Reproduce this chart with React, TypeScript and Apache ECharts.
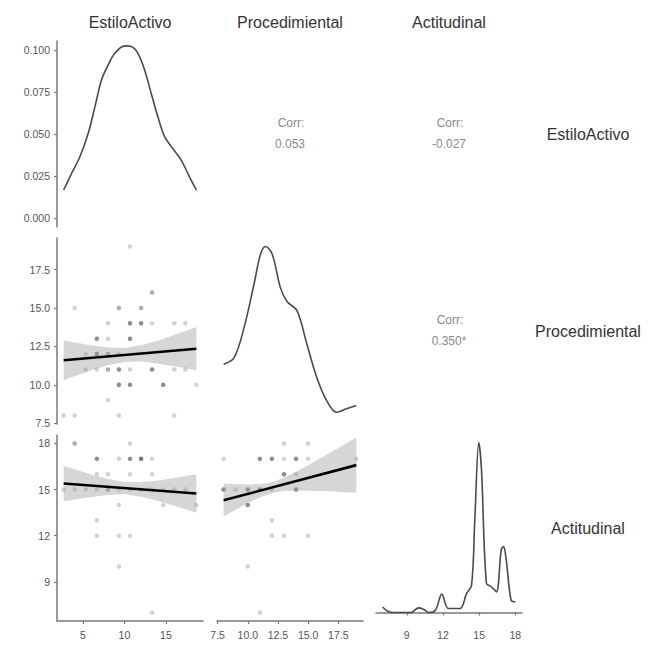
import React, { useEffect, useRef } from "react";
import * as echarts from "echarts";

// ---------- data ----------
const varNames = ["EstiloActivo", "Procedimiental", "Actitudinal"];
const corrTitle = "Corr:";
const corrValues = ["0.053", "-0.027", "0.350*"];

// tick labels
const eaTicks = [5, 10, 15];
const procTicks = [7.5, 10, 12.5, 15, 17.5];
const actTicks = [9, 12, 15, 18];
const densEATicks = [0, 0.025, 0.05, 0.075, 0.1];

// density curves
const densEA_x = [2.67, 3.47, 4.66, 5.65, 6.45, 7.24, 8.04, 8.84, 10.03, 10.82, 11.62, 12.42, 13.21, 14.01, 14.81, 15.6, 16.79, 17.79, 18.67];
const densEA_y = [0.0167, 0.025, 0.0369, 0.0507, 0.0664, 0.0822, 0.0911, 0.098, 0.1024, 0.102, 0.098, 0.0882, 0.0744, 0.0605, 0.0487, 0.0428, 0.0349, 0.025, 0.0167];

const densProc_x = [8.0, 8.87, 9.69, 10.51, 11.06, 11.47, 12.02, 12.71, 13.25, 14.08, 14.9, 15.72, 16.54, 17.36, 18.18, 19.0];
const densProc_y = [0.0608, 0.0686, 0.104, 0.155, 0.191, 0.2, 0.191, 0.151, 0.135, 0.124, 0.0843, 0.0451, 0.0176, 0.0039, 0.0079, 0.0118];

const densAct_x = [7.0, 7.41, 7.95, 9.32, 10.0, 10.41, 10.82, 11.37, 11.91, 12.45, 13.41, 13.96, 14.37, 14.64, 14.97, 15.19, 15.6, 16.01, 16.42, 16.83, 17.02, 17.24, 17.65, 18.0];
const densAct_y = [0.0133, 0.0031, 0, 0, 0.011, 0.0071, 0, 0.0055, 0.0436, 0.0095, 0.0095, 0.0452, 0.065, 0.22, 0.402, 0.339, 0.069, 0.061, 0.049, 0.148, 0.156, 0.125, 0.029, 0.025];

// scatter points (duplicates = overlapping observations)
const eaProcPts = [
  [10.67, 19], [13.33, 16], [13.33, 16], [4, 15], [9.33, 15], [9.33, 15], [12, 15], [12, 15],
  [8, 14], [10.67, 14], [10.67, 14], [10.67, 14], [12, 14], [12, 14], [12, 14], [13.33, 14], [16, 14], [17.33, 14],
  [6.67, 13], [6.67, 13], [6.67, 13], [8, 13], [10.67, 13], [10.67, 13], [10.67, 13],
  [5.33, 12], [6.67, 12], [6.67, 12], [6.67, 12], [8, 12], [8, 12], [9.33, 12],
  [5.33, 11], [6.67, 11], [8, 11], [8, 11], [9.33, 11], [9.33, 11], [9.33, 11], [10.67, 11],
  [13.33, 11], [13.33, 11], [13.33, 11], [16, 11], [17.33, 11],
  [9.33, 10], [9.33, 10], [9.33, 10], [10.67, 10], [10.67, 10], [10.67, 10],
  [14.67, 10], [14.67, 10], [14.67, 10], [18.67, 10],
  [8, 9], [2.67, 8], [4, 8], [9.33, 8], [16, 8],
];
const eaActPts = [
  [4, 18], [4, 18], [10.67, 18],
  [6.67, 17], [6.67, 17], [6.67, 17], [9.33, 17], [10.67, 17], [10.67, 17], [10.67, 17],
  [12, 17], [12, 17], [12, 17], [12, 17], [13.33, 17],
  [6.67, 16], [8, 16], [10.67, 16], [13.33, 16],
  [2.67, 15], [4, 15], [5.33, 15], [6.67, 15], [8, 15], [8, 15], [9.33, 15], [10.67, 15], [12, 15],
  [13.33, 15], [14.67, 15], [16, 15], [17.33, 15],
  [9.33, 14], [14.67, 14], [18.67, 14], [6.67, 13], [6.67, 12], [9.33, 12], [10.67, 12], [9.33, 10], [13.33, 7],
];
const procActPts = [
  [13, 18], [15, 18], [8, 17], [11, 17], [11, 17], [11, 17], [12, 17], [12, 17], [12, 17], [13, 17],
  [14, 17], [14, 17], [14, 17], [15, 17], [19, 17], [13, 16], [13, 16], [13, 16], [14, 16],
  [8, 15], [8, 15], [8, 15], [9, 15], [10, 15], [10, 15], [10, 15], [11, 15], [11, 15], [11, 15], [12, 15],
  [14, 15], [14, 15], [14, 15], [10, 14], [10, 14], [10, 14], [12, 13], [12, 12], [13, 12], [15, 12], [10, 10], [11, 7],
];

// regression lines and confidence bands
const reg1_x = [2.67, 4, 6, 8, 10, 12, 14, 16, 18.67];
const reg1_lo = [10.30, 10.56, 10.94, 11.27, 11.49, 11.51, 11.39, 11.20, 10.94];
const reg1_hi = [12.90, 12.76, 12.58, 12.43, 12.39, 12.57, 12.87, 13.24, 13.76];
const reg1_line = [[2.67, 11.6], [18.67, 12.35]];

const reg2_x = [2.67, 4, 6, 8, 10, 12, 14, 16, 18.67];
const reg2_lo = [14.24, 14.36, 14.52, 14.65, 14.69, 14.54, 14.27, 13.95, 13.49];
const reg2_hi = [16.54, 16.32, 15.98, 15.69, 15.49, 15.48, 15.59, 15.75, 15.99];
const reg2_line = [[2.67, 15.39], [18.67, 14.74]];

const reg3_x = [8, 9, 10, 11, 12, 13, 14, 15, 16, 17, 18, 19];
const reg3_lo = [13.24, 13.68, 14.11, 14.49, 14.78, 14.91, 14.94, 14.93, 14.90, 14.87, 14.83, 14.80];
const reg3_hi = [15.40, 15.34, 15.33, 15.35, 15.48, 15.77, 16.16, 16.59, 17.02, 17.47, 17.93, 18.38];
const reg3_line = [[8, 14.3], [19, 16.59]];

// ---------- layout / style ----------
const FONT = "Liberation Sans, Arial, sans-serif";
const colLeft = [57, 217, 376];
const colW = 146;
const rowTop = [41, 238, 435];
const rowH = 186;
const EA_RANGE = [1.867, 19.467];
const PROC_RANGE = [7.45, 19.55];
const ACT_RANGE = [6.45, 18.55];
const AXIS_COLOR = "#7a7a7a";
const LABEL_COLOR = "#555";

function shownAxis(gridIndex: number, range: number[], ticks: number[], fmt: (v: number) => string, pos: string) {
  return {
    type: "value",
    gridIndex,
    position: pos,
    min: range[0],
    max: range[1],
    axisLine: { show: true, lineStyle: { color: AXIS_COLOR, width: 1.5 } },
    axisTick: { show: true, length: 3, customValues: ticks, lineStyle: { color: AXIS_COLOR, width: 1.2 } },
    axisLabel: {
      customValues: ticks,
      formatter: (v: number) => fmt(v),
      color: LABEL_COLOR,
      fontSize: 10.5,
      fontFamily: FONT,
      margin: pos === "left" ? 7 : 8,
    },
    splitLine: { show: false },
  };
}
function hiddenAxis(gridIndex: number, range: number[]) {
  return { type: "value", gridIndex, min: range[0], max: range[1], show: false, splitLine: { show: false } };
}

const fmtInt = (v: number) => String(Math.round(v));
const fmt1 = (v: number) => v.toFixed(1);
const fmt3 = (v: number) => v.toFixed(3);

function densitySeries(xi: number, xs: number[], ys: number[]) {
  return {
    type: "line",
    xAxisIndex: xi,
    yAxisIndex: xi,
    data: xs.map((x, i) => [x, ys[i]]),
    symbol: "none",
    smooth: 0.35,
    lineStyle: { color: "#4a4a4a", width: 1.6 },
    silent: true,
  };
}
function scatterSeries(xi: number, pts: number[][]) {
  return {
    type: "scatter",
    xAxisIndex: xi,
    yAxisIndex: xi,
    data: pts,
    symbolSize: 4.5,
    itemStyle: { color: "rgba(0,0,0,0.22)" },
    silent: true,
    z: 2,
  };
}
function bandSeries(xi: number, xs: number[], lo: number[], hi: number[]) {
  return {
    type: "custom",
    xAxisIndex: xi,
    yAxisIndex: xi,
    data: xs.map((x, i) => [x, lo[i], hi[i]]),
    encode: { x: 0, y: [1, 2] },
    clip: true,
    silent: true,
    z: 3,
    renderItem: (params: any, api: any) => {
      if (params.dataIndex !== 0) return null;
      const pts: number[][] = [];
      for (let i = 0; i < xs.length; i++) pts.push(api.coord([xs[i], lo[i]]));
      for (let i = xs.length - 1; i >= 0; i--) pts.push(api.coord([xs[i], hi[i]]));
      return {
        type: "polygon",
        shape: { points: pts },
        style: { fill: "rgba(153,153,153,0.4)", stroke: "none" },
      };
    },
  };
}
function regLine(xi: number, pts: number[][]) {
  return {
    type: "line",
    xAxisIndex: xi,
    yAxisIndex: xi,
    data: pts,
    symbol: "none",
    lineStyle: { color: "#000", width: 2.6 },
    silent: true,
    z: 4,
  };
}

function txt(x: number, y: number, text: string, size: number, color: string) {
  return {
    type: "text",
    x,
    y,
    silent: true,
    style: {
      text,
      fill: color,
      fontSize: size,
      fontFamily: FONT,
      textAlign: "center",
      textVerticalAlign: "middle",
    },
  };
}

export default function App() {
  const ref = useRef<HTMLDivElement>(null);
  useEffect(() => {
    if (!ref.current) return;
    const chart = echarts.init(ref.current, undefined, { renderer: "svg" });

    // grids: 0 r1c1, 1 r2c1, 2 r3c1, 3 r2c2, 4 r3c2, 5 r3c3
    const cells = [[0, 0], [1, 0], [2, 0], [1, 1], [2, 1], [2, 2]];
    const grid = cells.map(([r, c]) => ({ left: colLeft[c], top: rowTop[r], width: colW, height: rowH }));

    const xAxis = [
      hiddenAxis(0, EA_RANGE),
      hiddenAxis(1, EA_RANGE),
      shownAxis(2, EA_RANGE, eaTicks, fmtInt, "bottom"),
      hiddenAxis(3, PROC_RANGE),
      shownAxis(4, PROC_RANGE, procTicks, fmt1, "bottom"),
      shownAxis(5, ACT_RANGE, actTicks, fmtInt, "bottom"),
    ];
    const yAxis = [
      shownAxis(0, [-0.0053, 0.1053], densEATicks, fmt3, "left"),
      shownAxis(1, PROC_RANGE, procTicks, fmt1, "left"),
      shownAxis(2, ACT_RANGE, actTicks, fmtInt, "left"),
      hiddenAxis(3, [-0.01, 0.21]),
      hiddenAxis(4, ACT_RANGE),
      hiddenAxis(5, [-0.02, 0.42]),
    ];

    const series: any[] = [
      densitySeries(0, densEA_x, densEA_y),
      scatterSeries(1, eaProcPts),
      bandSeries(1, reg1_x, reg1_lo, reg1_hi),
      regLine(1, reg1_line),
      scatterSeries(2, eaActPts),
      bandSeries(2, reg2_x, reg2_lo, reg2_hi),
      regLine(2, reg2_line),
      densitySeries(3, densProc_x, densProc_y),
      scatterSeries(4, procActPts),
      bandSeries(4, reg3_x, reg3_lo, reg3_hi),
      regLine(4, reg3_line),
      densitySeries(5, densAct_x, densAct_y),
    ];

    const colCenter = colLeft.map((l) => l + colW / 2);
    const rowCenter = rowTop.map((t) => t + rowH / 2);
    const graphic: any[] = [];
    varNames.forEach((n, i) => {
      graphic.push(txt(colCenter[i], 22, n, 16, "#333"));
      graphic.push(txt(588, rowCenter[i], n, 16, "#333"));
    });
    const corrCells = [[0, 1], [0, 2], [1, 2]];
    corrCells.forEach(([r, c], i) => {
      graphic.push(txt(colCenter[c] + 1, rowCenter[r] - 11, corrTitle, 12, "#8a8a8a"));
      graphic.push(txt(colCenter[c], rowCenter[r] + 10, corrValues[i], 12, "#8a8a8a"));
    });

    chart.setOption({
      animation: false,
      backgroundColor: "#fff",
      grid,
      xAxis,
      yAxis,
      series,
      graphic,
    });
    return () => chart.dispose();
  }, []);
  return (
    <div
      ref={ref}
      style={{ position: "fixed", left: 0, top: 0, width: 648, height: 652, background: "#fff" }}
    />
  );
}
